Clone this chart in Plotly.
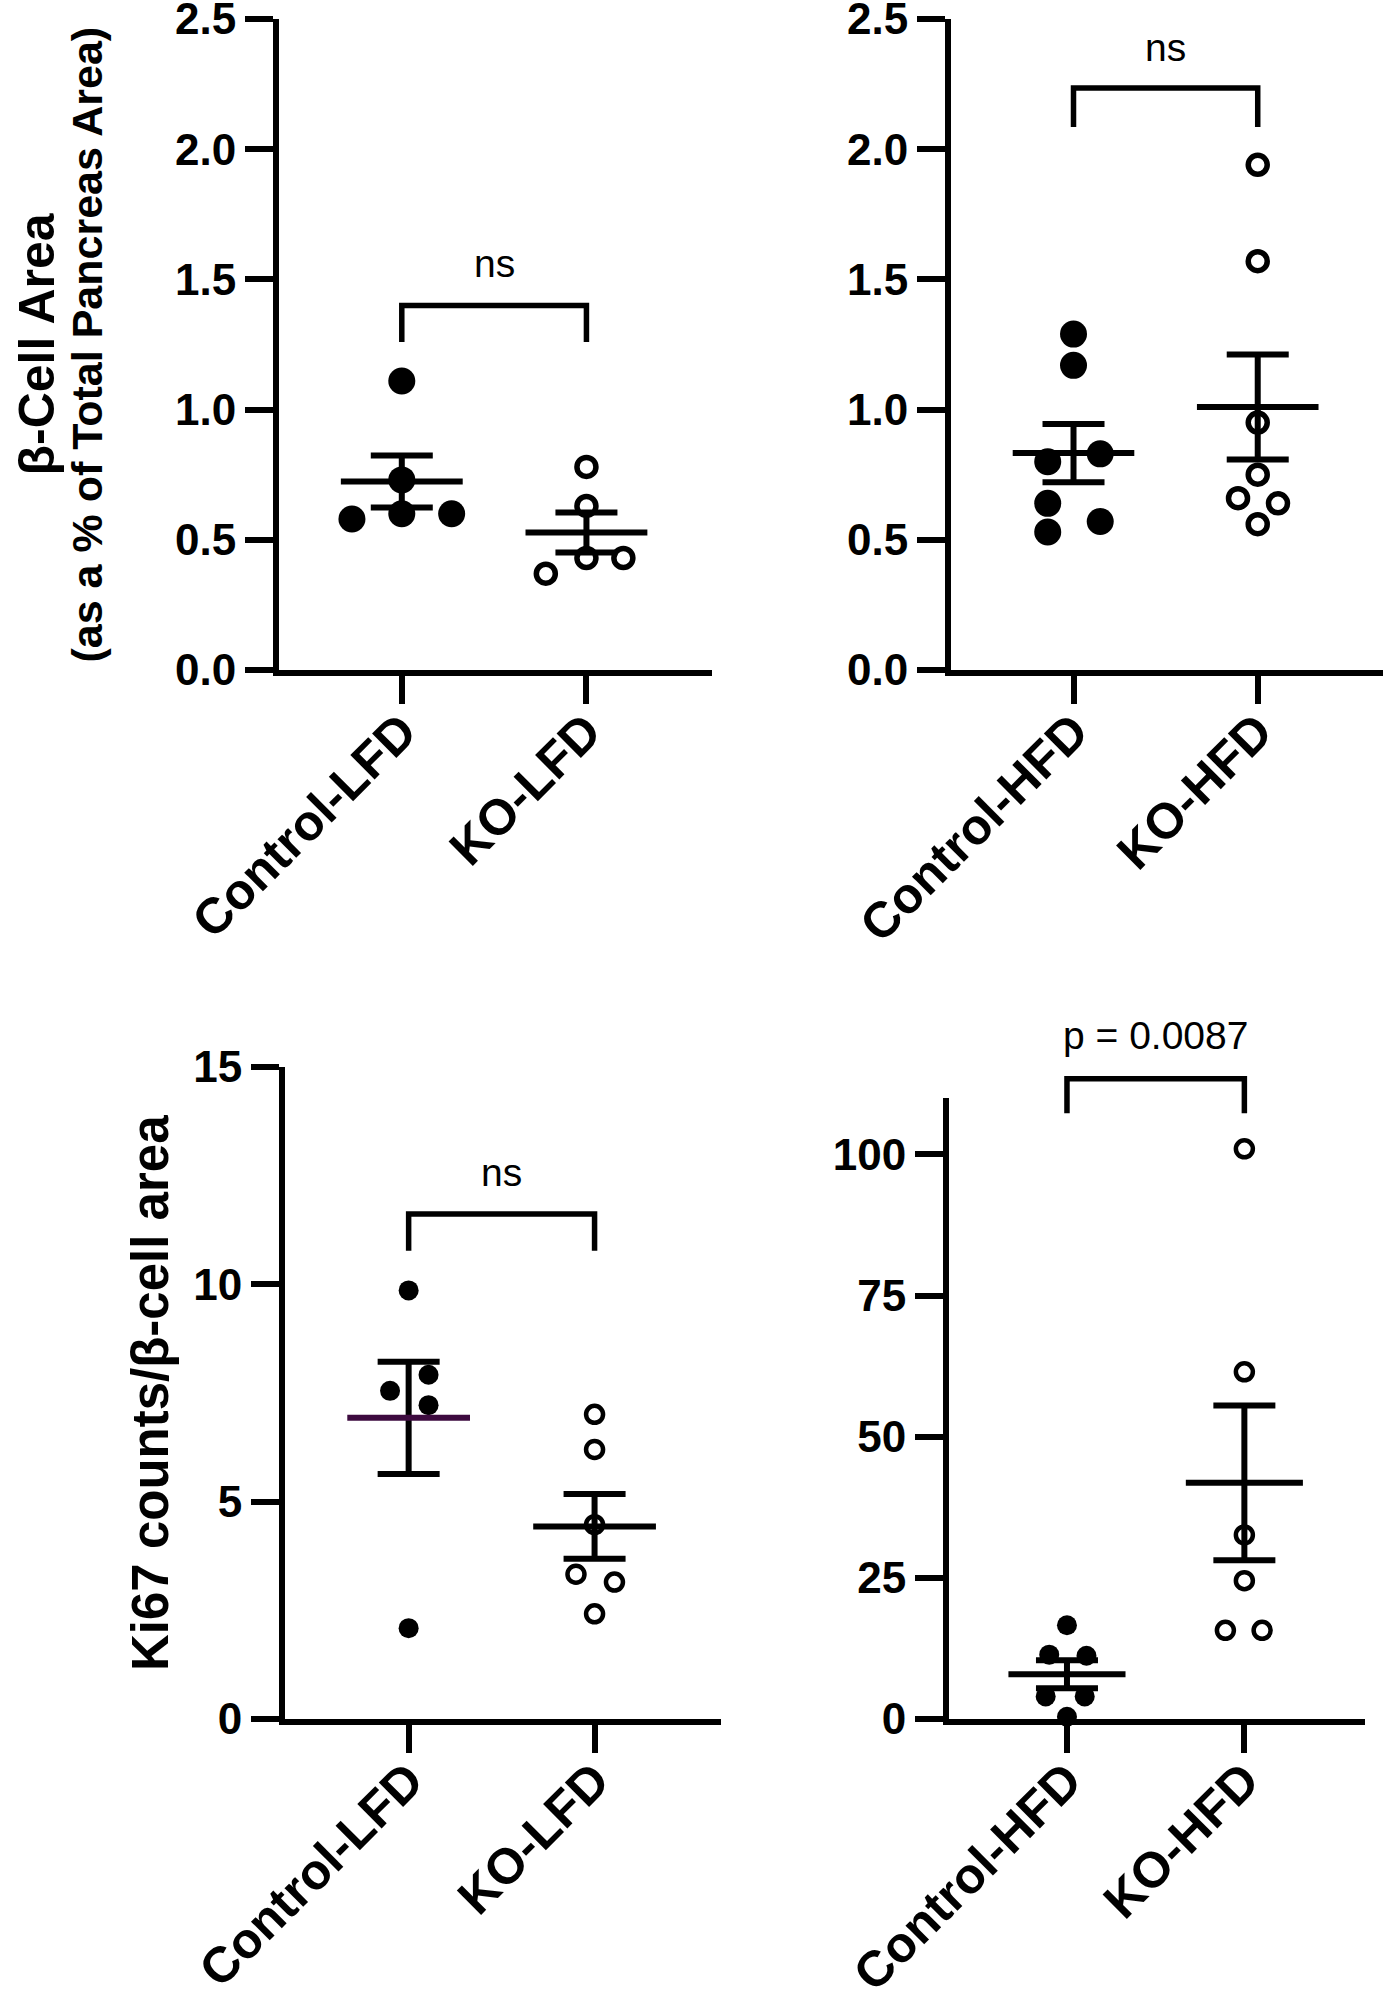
import numpy as np
import plotly.graph_objects as go

# 分组名称
groups_lfd = ["Control-LFD", "KO-LFD"]
groups_hfd = ["Control-HFD", "KO-HFD"]

# β细胞面积（占胰腺总面积的百分比）
area_ctrl_lfd = [1.11, 0.73, 0.60, 0.58, 0.60]
area_ko_lfd = [0.78, 0.63, 0.43, 0.37, 0.43]
area_ctrl_hfd = [1.29, 1.17, 0.80, 0.83, 0.64, 0.57, 0.53]
area_ko_hfd = [1.94, 1.57, 0.95, 0.75, 0.66, 0.64, 0.56]

# Ki67 计数 / β细胞面积
ki67_ctrl_lfd = [9.86, 7.92, 7.55, 7.22, 2.09]
ki67_ko_lfd = [7.01, 6.20, 4.47, 3.33, 3.15, 2.42]
ki67_ctrl_hfd = [16.6, 11.4, 11.2, 4.0, 4.0, 0.4]
ki67_ko_hfd = [101.0, 61.5, 32.6, 24.5, 15.7, 15.7]

# 显著性标注
sig_labels = ["ns", "ns", "ns", "p = 0.0087"]

# 点的水平散开（类别单位）
jit_area_ctrl_lfd = [0, 0, 0, -0.27, 0.27]
jit_area_ko_lfd = [0, 0, 0, -0.22, 0.2]
jit_area_ctrl_hfd = [0, 0, -0.14, 0.145, -0.14, 0.145, -0.14]
jit_area_ko_hfd = [0, 0, 0, 0, -0.107, 0.11, 0]
jit_ki67_ctrl_lfd = [0, 0.107, -0.1, 0.107, 0]
jit_ki67_ko_lfd = [0, 0, 0, -0.1, 0.107, 0]
jit_ki67_ctrl_hfd = [0, -0.1, 0.11, -0.12, 0.1, 0]
jit_ki67_ko_hfd = [0, 0, 0, 0, -0.107, 0.1]

# 页面尺寸（页面边距在 post_script 里去掉）
W, H = 1390, 1991
FONT = "Liberation Sans, Arial, sans-serif"
XRANGE = [-0.665, 1.68]


def fx(px):
    return min(px / W, 1.0)


def fy(py):
    return 1 - py / H


panels = [
    dict(n="", cats=groups_lfd, vals=(area_ctrl_lfd, area_ko_lfd),
         jit=(jit_area_ctrl_lfd, jit_area_ko_lfd), yr=[0, 2.5], dtick=0.5, fmt=".1f",
         xd=[fx(279), fx(712)], yd=[fy(670), fy(19)], bar=1.40, leg=1.26, ty=1.56,
         big=27, small=19, ring=5.5, mean_colors=("black", "black")),
    dict(n="2", cats=groups_hfd, vals=(area_ctrl_hfd, area_ko_hfd),
         jit=(jit_area_ctrl_hfd, jit_area_ko_hfd), yr=[0, 2.5], dtick=0.5, fmt=".1f",
         xd=[fx(951), fx(1383)], yd=[fy(670), fy(19)], bar=2.235, leg=2.085, ty=2.39,
         big=27, small=19, ring=5.5, mean_colors=("black", "black")),
    dict(n="3", cats=groups_lfd, vals=(ki67_ctrl_lfd, ki67_ko_lfd),
         jit=(jit_ki67_ctrl_lfd, jit_ki67_ko_lfd), yr=[0, 15], dtick=5, fmt="d",
         xd=[fx(285), fx(721)], yd=[fy(1719), fy(1067)], bar=11.62, leg=10.77, ty=12.58,
         big=20, small=17, ring=4.5, mean_colors=("#3d0b3f", "black")),
    dict(n="4", cats=groups_hfd, vals=(ki67_ctrl_hfd, ki67_ko_hfd),
         jit=(jit_ki67_ctrl_hfd, jit_ki67_ko_hfd), yr=[0, 110], dtick=25, fmt="d",
         xd=[fx(949), fx(1365)], yd=[fy(1719), fy(1098)], bar=113.4, leg=107.3, ty=121.0,
         big=20, small=17, ring=4.5, mean_colors=("black", "black")),
]

fig = go.Figure()
shapes = []
annotations = []

for i, p in enumerate(panels):
    xa, ya = "x" + p["n"], "y" + p["n"]
    lo, hi = p["yr"]

    def dy(v):
        return (v - lo) / (hi - lo)

    def dx(v):
        return (v - XRANGE[0]) / (XRANGE[1] - XRANGE[0])

    for g, (vals, jit) in enumerate(zip(p["vals"], p["jit"])):
        vals = np.array(vals)
        xs = g + np.array(jit)
        if g == 0:
            marker = dict(symbol="circle", size=p["big"], color="black", line=dict(width=0))
        else:
            marker = dict(symbol="circle-open", size=p["small"], color="black",
                          line=dict(width=p["ring"], color="black"))
        fig.add_trace(go.Scatter(x=xs, y=vals, mode="markers", marker=marker,
                                 xaxis=xa, yaxis=ya, cliponaxis=False, hoverinfo="y"))
        # 均值 ± 标准误
        mean = vals.mean()
        sem = vals.std(ddof=1) / np.sqrt(len(vals))
        fig.add_trace(go.Scatter(x=[g], y=[mean], mode="markers",
                                 marker=dict(size=1, opacity=0),
                                 error_y=dict(type="data", array=[sem], visible=True,
                                              thickness=6, width=31, color="black"),
                                 xaxis=xa, yaxis=ya, cliponaxis=False, hoverinfo="skip"))
        fig.add_trace(go.Scatter(x=[g - 0.33, g + 0.33], y=[mean, mean], mode="lines",
                                 line=dict(width=6, color=p["mean_colors"][g]),
                                 xaxis=xa, yaxis=ya, hoverinfo="skip"))

    # 显著性括号和文字（按轴域坐标，避免被裁剪或隐藏）
    path = "M {a},{l} L {a},{b} L {c},{b} L {c},{l}".format(
        a=dx(0), c=dx(1), l=dy(p["leg"]), b=dy(p["bar"]))
    shapes.append(dict(type="path", path=path, xref=xa + " domain", yref=ya + " domain",
                       line=dict(color="black", width=5.5)))
    annotations.append(dict(text=sig_labels[i], x=dx(0.5), y=dy(p["ty"]),
                            xref=xa + " domain", yref=ya + " domain",
                            showarrow=False, xanchor="center", yanchor="middle",
                            font=dict(family=FONT, size=39, color="black")))

    axis_common = dict(showline=True, linewidth=6, linecolor="black", ticks="outside",
                       ticklen=28, tickwidth=6, tickcolor="black", showgrid=False,
                       zeroline=False, fixedrange=True, automargin=False,
                       ticklabeloverflow="allow")
    fig.update_layout(**{
        "xaxis" + p["n"]: dict(axis_common, domain=p["xd"], anchor=ya, range=XRANGE,
                               tickvals=[0, 1], ticktext=p["cats"], tickangle=-45,
                               ticklabelstandoff=-22,
                               tickfont=dict(family=FONT, size=50, color="black", weight="bold")),
        "yaxis" + p["n"]: dict(axis_common, domain=p["yd"], anchor=xa, range=p["yr"],
                               tick0=0, dtick=p["dtick"], tickformat=p["fmt"],
                               tickfont=dict(family=FONT, size=44, color="black", weight="bold")),
    })

# 纵轴标题
annotations.append(dict(text="β-Cell Area", textangle=-90, x=fx(36), y=0.5,
                        xref="paper", yref="y domain", showarrow=False,
                        xanchor="center", yanchor="middle",
                        font=dict(family=FONT, size=50, color="black", weight="bold")))
annotations.append(dict(text="(as a % of Total Pancreas Area)", textangle=-90, x=fx(86), y=0.5,
                        xref="paper", yref="y domain", showarrow=False,
                        xanchor="center", yanchor="middle",
                        font=dict(family=FONT, size=43, color="black", weight="bold")))
annotations.append(dict(text="Ki67 counts/β-cell area", textangle=-90, x=fx(150), y=0.5,
                        xref="paper", yref="y3 domain", showarrow=False,
                        xanchor="center", yanchor="middle",
                        font=dict(family=FONT, size=51, color="black", weight="bold")))

fig.update_layout(width=W, height=H, margin=dict(l=0, r=0, t=0, b=0, autoexpand=False),
                  paper_bgcolor="white", plot_bgcolor="white", showlegend=False,
                  shapes=shapes, annotations=annotations)

fig.write_html("out.html", config={"displayModeBar": False},
               post_script="document.body.style.margin = '0';")
